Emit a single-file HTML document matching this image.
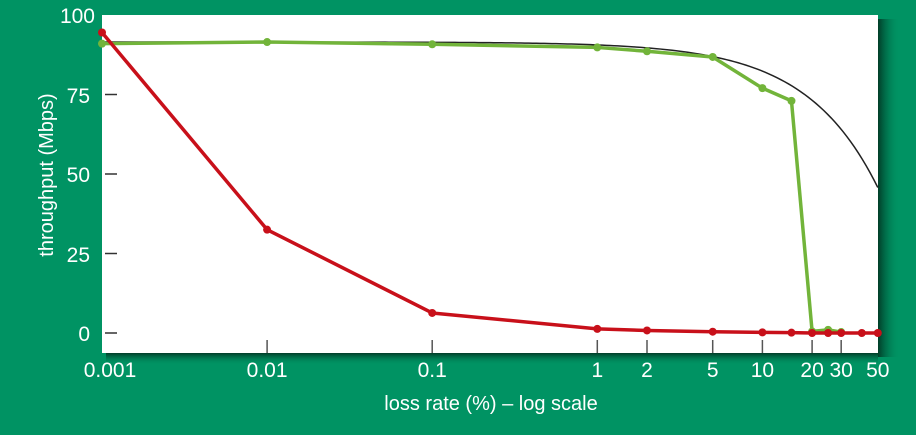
<!DOCTYPE html>
<html><head><meta charset="utf-8">
<style>
html,body{margin:0;padding:0;background:#009363;}
svg{display:block;font-family:"Liberation Sans",sans-serif;}
</style></head><body>
<svg id="s" width="916" height="435" xmlns="http://www.w3.org/2000/svg">
<defs>
<linearGradient id="gr" x1="0" x2="1" y1="0" y2="0"><stop offset="0" stop-color="#013d28"/><stop offset="1" stop-color="#009363" stop-opacity="0"/></linearGradient>
<linearGradient id="gb" x1="0" x2="0" y1="0" y2="1"><stop offset="0" stop-color="#013d28"/><stop offset="1" stop-color="#009363" stop-opacity="0"/></linearGradient>
</defs>
<rect width="916" height="435" fill="#009363"/>
<rect x="878" y="19" width="22" height="338" fill="url(#gr)"/>
<rect x="106" y="353" width="772" height="12" fill="url(#gb)"/>
<rect x="102" y="15" width="776" height="338" fill="#fff"/>
<g id="g"></g>
<g fill="#fff" font-size="21" text-anchor="end">
<text x="95" y="23">100</text><text x="90" y="103">75</text><text x="90" y="182">50</text><text x="90" y="262">25</text><text x="90" y="341">0</text>
</g>
<text transform="translate(53,175) rotate(-90)" fill="#fff" font-size="20" text-anchor="middle">throughput (Mbps)</text>
<text x="491" y="410" fill="#fff" font-size="20" text-anchor="middle">loss rate (%) – log scale</text>
</svg>
<script>
var g=document.getElementById('g'),ns="http://www.w3.org/2000/svg";
function X(p){return 102+(Math.log10(p)+3)*165.1;}
function Y(v){return 333-v*3.18;}
function el(t,a){var e=document.createElementNS(ns,t);for(var k in a)e.setAttribute(k,a[k]);g.appendChild(e);return e;}
[75,50,25,0].forEach(function(v){el('line',{x1:105,x2:117,y1:Y(v),y2:Y(v),stroke:'#333','stroke-width':1.5});});
var xt=[0.001,0.01,0.1,1,2,5,10,20,30,50],lab=['0.001','0.01','0.1','1','2','5','10','20','30','50'];
xt.forEach(function(p,i){if(i>0&&i<9)el('line',{x1:X(p),x2:X(p),y1:340,y2:353,stroke:'#555','stroke-width':1.5});
var t=el('text',{x:X(p)+(i==0?8:0),y:377,fill:'#fff','font-size':21,'text-anchor':'middle'});t.textContent=lab[i];});
var d='';for(var i=0;i<=200;i++){var lp=-3+i*4.699/200,p=Math.pow(10,lp);d+=(i?'L':'M')+X(p)+','+Y(91.5*(1-p/100));}
el('path',{d:d,fill:'none',stroke:'#222','stroke-width':1.5});
function series(pts,c){var d='';pts.forEach(function(q,i){d+=(i?'L':'M')+X(q[0])+','+Y(q[1]);});
el('path',{d:d,fill:'none',stroke:c,'stroke-width':3.5,'stroke-linejoin':'round'});
pts.forEach(function(q){el('circle',{cx:X(q[0]),cy:Y(q[1]),r:4,fill:c});});}
series([[0.001,91],[0.01,91.5],[0.1,90.8],[1,89.8],[2,88.6],[5,86.8],[10,77],[15,73],[20,0.5],[25,1],[30,0.3]],'#72b43a');
series([[0.001,94.5],[0.01,32.5],[0.1,6.3],[1,1.3],[2,0.8],[5,0.4],[10,0.2],[15,0.1],[20,0],[25,0],[30,0],[40,0],[50,0]],'#c8101a');
</script>
</body></html>
